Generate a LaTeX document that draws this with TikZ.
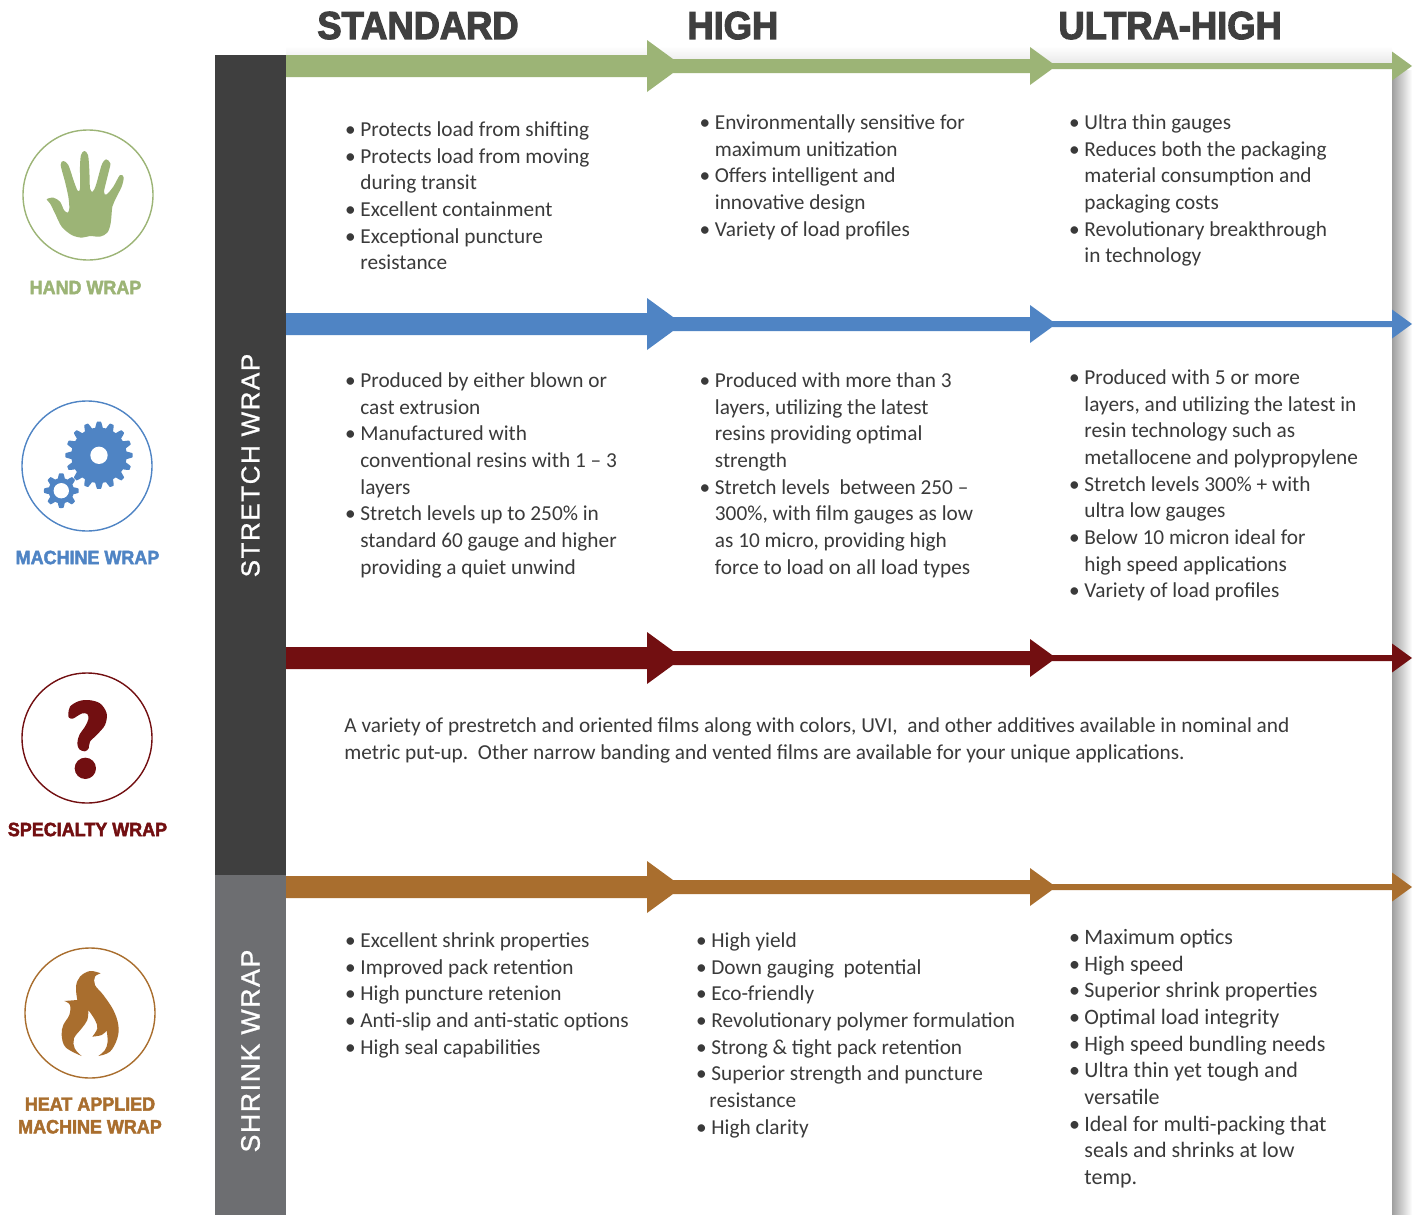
\documentclass[tikz,border=0pt]{standalone}
\usepackage{fontspec}
\setmainfont{Carlito}
\newfontfamily\headf[UprightFont={* Bold},FakeBold=3,FakeStretch=0.932]{Liberation Sans}
\newfontfamily\labf[UprightFont={* Bold},FakeBold=2.4,FakeStretch=0.935]{Liberation Sans}
\newfontfamily\barf[LetterSpace=6,FakeBold=0.9]{Liberation Sans}
\definecolor{cgreen}{HTML}{9CB476}
\definecolor{cblue}{HTML}{4F84C4}
\definecolor{cred}{HTML}{720F11}
\definecolor{cbrown}{HTML}{A96E2E}
\definecolor{cdark}{HTML}{3F3F3F}
\definecolor{cgrey}{HTML}{6D6E71}
\definecolor{ctext}{HTML}{3A3A3A}
\newcommand{\bl}{\leavevmode\llap{\makebox[7.7pt][l]{•}}}
\newcommand{\flowarrow}[2]{%
  \fill[#2] (286,#1-11) -- (647,#1-11) -- (647,#1-26) -- (673,#1-7) -- (1030,#1-7) -- (1030,#1-19)
    -- (1052,#1-3) -- (1392,#1-3) -- (1392,#1-14.5) -- (1412,#1) -- (1392,#1+14.5) -- (1392,#1+3)
    -- (1052,#1+3) -- (1030,#1+19) -- (1030,#1+7) -- (673,#1+7) -- (647,#1+26) -- (647,#1+11) -- (286,#1+11) -- cycle;}
\tikzset{
  body/.style={anchor=north west,inner sep=0pt,align=left,text=ctext,font=\fontsize{10.65}{13.33}\selectfont},
  bodylarge/.style={body,font=\fontsize{11}{13.33}\selectfont},
  head/.style={anchor=base west,inner sep=0pt,text=cdark,font=\headf\fontsize{19.5}{22}\selectfont},
  catlab/.style={align=center,inner sep=0pt,font=\labf\fontsize{9.6}{11}\selectfont},
  barlab/.style={rotate=90,inner sep=0pt,text=white,font=\barf\fontsize{13}{15}\selectfont},
  ring/.style={circle,draw=#1,line width=0.7pt,minimum size=65pt,inner sep=0pt,fill=white},
}
\newcommand{\fs}{\rule{0pt}{10pt}}
\begin{document}
\begin{tikzpicture}[x=0.5pt,y=-0.5pt]
\useasboundingbox (0,0) rectangle (1419,1215);
% shadow of the panel
\shade[left color=black!38,right color=white] (1392,70) rectangle (1412,1215);
\shade[top color=white,bottom color=black!10] (286,46) rectangle (1392,66);
\fill[white] (286,66) rectangle (1392,1215);
% side bars
\fill[cdark] (215,55) rectangle (286,875);
\fill[cgrey] (215,875) rectangle (286,1215);
\node[barlab] (stretch) at (250.5,465.5) {STRETCH WRAP};
\node[barlab,font=\barf\fontsize{13.35}{15}\selectfont] (shrink) at (250.5,1051) {SHRINK WRAP};
% column heads
\node[head] (hstd) at (317,39) {STANDARD};
\node[head] (hhigh) at (687,39) {HIGH};
\node[head] (hultra) at (1058,39) {ULTRA-HIGH};
% flow arrows
\flowarrow{66}{cgreen}
\flowarrow{324}{cblue}
\flowarrow{658}{cred}
\flowarrow{887}{cbrown}
% rings and labels
\node[ring=cgreen] (r1) at (88,195) {};
\node[ring=cblue] (r2) at (87,466) {};
\node[ring=cred] (r3) at (87,738) {};
\node[ring=cbrown] (r4) at (90,1013) {};
\node[catlab,text=cgreen] (l1) at (85.5,287.5) {HAND WRAP};
\node[catlab,text=cblue] (l2) at (87.5,557.5) {MACHINE WRAP};
\node[catlab,text=cred] (l3) at (87.5,829.5) {SPECIALTY WRAP};
\node[catlab,text=cbrown] (l4) at (90,1115.5) {HEAT APPLIED\\[0.3pt]MACHINE WRAP};
% hand
\begin{scope}[shift={(0,100)},scale=0.33333]
\fill[cgreen] plot[smooth cycle,tension=0.5] coordinates {(140,298) (160,293) (180,305) (192,330) (203,338) (208,325) (205,290) (195,245) (182,195) (190,183) (205,195) (222,245) (233,272) (240,265) (240,200) (243,165) (253,153) (264,165) (268,210) (270,265) (278,275) (288,255) (305,195) (318,178) (331,190) (325,220) (312,275) (320,283) (340,260) (360,225) (371,232) (365,260) (345,300) (337,320) (332,370) (322,398) (300,410) (270,408) (245,413) (215,405) (185,380) (165,340) (150,310)};
\end{scope}
% gears
\begin{scope}[shift={(99,455.3)},scale=0.33333]
\fill[cblue] plot[domain=0:360,samples=361] (\x:{92+9*max(min(1.7*cos(16*\x),1),-1)}) -- cycle;
\fill[white] (0,0) circle (26);
\end{scope}
\begin{scope}[shift={(61.3,490.7)},scale=0.33333]
\fill[cblue] plot[domain=0:360,samples=361] (\x:{45+7*max(min(1.7*cos(8*\x),1),-1)}) -- cycle;
\fill[white] (0,0) circle (23);
\end{scope}
% question mark
\begin{scope}[shift={(0,660)},scale=0.33333]
\fill[cred] plot[smooth cycle,tension=0.55] coordinates {(205,163) (210,140) (235,124) (265,120) (300,130) (320,160) (315,195) (290,225) (270,245) (266,265) (255,274) (238,268) (232,250) (238,225) (255,200) (265,178) (262,162) (247,160) (232,168) (218,176) (207,173)};
\fill[cred] (256,325) circle (32);
\end{scope}
% flame
\begin{scope}[shift={(0,920)},scale=0.33333]
\fill[cbrown] plot[smooth,tension=0.6] coordinates {(302,160) (270,153) (240,170) (228,200) (232,240)}
 -- plot[smooth,tension=0.6] coordinates {(193,243) (210,255) (208,285) (190,315) (185,345) (197,382) (245,408)}
 -- plot[smooth,tension=0.6] coordinates {(245,408) (224,385) (222,355) (245,325) (262,300) (265,270)}
 -- plot[smooth,tension=0.6] coordinates {(265,270) (285,300) (292,325) (277,350)}
 -- plot[smooth,tension=0.6] coordinates {(277,350) (305,345) (320,332)}
 -- plot[smooth,tension=0.6] coordinates {(320,332) (323,365) (315,390) (295,408)}
 -- plot[smooth,tension=0.6] coordinates {(295,408) (330,395) (352,355) (355,315) (340,270) (310,225) (285,195) (285,170) (302,160)} -- cycle;
\end{scope}
% texts
\node[body] (a1) at (360,116) {\fs\bl Protects load from shifting\\\bl Protects load from moving\\during transit\\\bl Excellent containment\\\bl Exceptional puncture\\resistance};
\node[body] (a2) at (714.5,109) {\fs\bl Environmentally sensitive for\\maximum unitization\\\bl Offers intelligent and\\innovative design\\\bl Variety of load profiles};
\node[body] (a3) at (1084,109) {\fs\bl Ultra thin gauges\\\bl Reduces both the packaging\\material consumption and\\packaging costs\\\bl Revolutionary breakthrough\\in technology};
\node[body] (b1) at (360,367) {\fs\bl Produced by either blown or\\cast extrusion\\\bl Manufactured with\\conventional resins with 1 – 3\\layers\\\bl Stretch levels up to 250\% in\\standard 60 gauge and higher\\providing a quiet unwind};
\node[body] (b2) at (714.5,367) {\fs\bl Produced with more than 3\\layers, utilizing the latest\\resins providing optimal\\strength\\\bl Stretch levels\ \ between 250 –\\300\%, with film gauges as low\\as 10 micro, providing high\\force to load on all load types};
\node[body] (b3) at (1084,364) {\fs\bl Produced with 5 or more\\layers, and utilizing the latest in\\resin technology such as\\metallocene and polypropylene\\\bl Stretch levels 300\% + with\\ultra low gauges\\\bl Below 10 micron ideal for\\high speed applications\\\bl Variety of load profiles};
\node[body] (c1) at (344,712) {\fs A variety of prestretch and oriented films along with colors, UVI,\ \ and other additives available in nominal and\\metric put-up.\ \ Other narrow banding and vented films are available for your unique applications.};
\node[body] (d1) at (360,927) {\fs\bl Excellent shrink properties\\\bl Improved pack retention\\\bl High puncture retenion\\\bl Anti-slip and anti-static options\\\bl High seal capabilities};
\node[body] (d2) at (711,927) {\fs\bl High yield\\\bl Down gauging\ \ potential\\\bl Eco-friendly\\\bl Revolutionary polymer formulation\\\bl Strong \& tight pack retention\\\bl Superior strength and puncture\\\hspace*{-1pt}resistance\\\bl High clarity};
\node[bodylarge] (d3) at (1084,924) {\fs\bl Maximum optics\\\bl High speed\\\bl Superior shrink properties\\\bl Optimal load integrity\\\bl High speed bundling needs\\\bl Ultra thin yet tough and\\versatile\\\bl Ideal for multi-packing that\\seals and shrinks at low\\temp.};
\end{tikzpicture}
\end{document}
